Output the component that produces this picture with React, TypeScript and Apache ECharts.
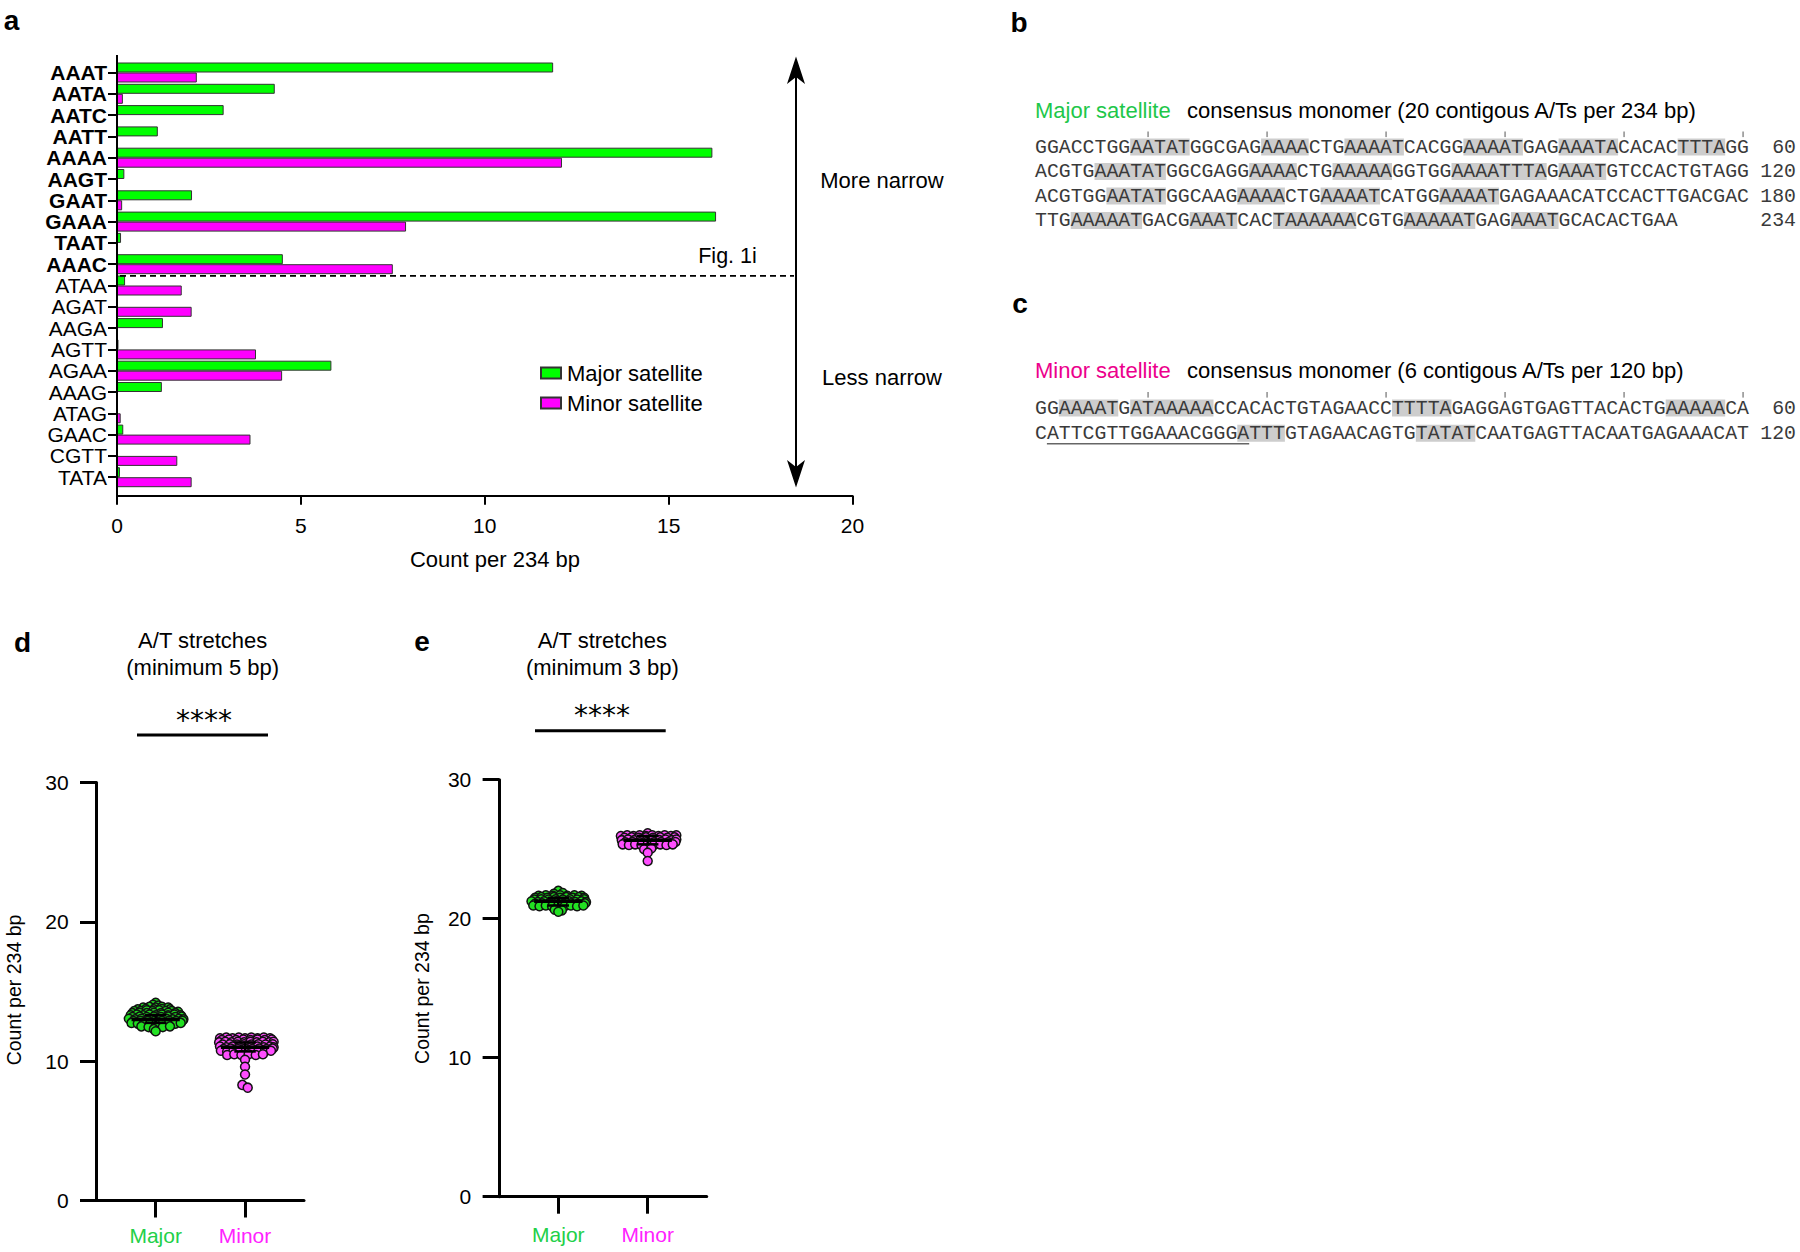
import React, { useEffect, useRef } from 'react';
import * as echarts from 'echarts';

// ---------- Panel a data ----------
const motifs = ['AAAT', 'AATA', 'AATC', 'AATT', 'AAAA', 'AAGT', 'GAAT', 'GAAA', 'TAAT', 'AAAC', 'ATAA', 'AGAT', 'AAGA', 'AGTT', 'AGAA', 'AAAG', 'ATAG', 'GAAC', 'CGTT', 'TATA'];
const boldMotifCount = 10;
const majorCounts = [11.86, 4.29, 2.9, 1.11, 16.19, 0.2, 2.04, 16.29, 0.11, 4.51, 0.22, 0, 1.25, 0.04, 5.83, 1.22, 0, 0.17, 0, 0.08];
const minorCounts = [2.17, 0.16, 0, 0, 12.1, 0, 0.14, 7.86, 0, 7.5, 1.76, 2.03, 0, 3.78, 4.49, 0, 0.1, 3.63, 1.64, 2.03];
const barTicks = { min: 0, max: 20, interval: 5 };

// ---------- Panels b / c data ----------
const majorSeq = [
  'GGACCTGGAATATGGCGAGAAAACTGAAAATCACGGAAAATGAGAAATACACACTTTAGG',
  'ACGTGAAATATGGCGAGGAAAACTGAAAAAGGTGGAAAATTTAGAAATGTCCACTGTAGG',
  'ACGTGGAATATGGCAAGAAAACTGAAAATCATGGAAAATGAGAAACATCCACTTGACGAC',
  'TTGAAAAATGACGAAATCACTAAAAAACGTGAAAAATGAGAAATGCACACTGAA',
];
const majorNums = ['60', '120', '180', '234'];
// [line, start, length]
const majorHL = [
  [0, 8, 5], [0, 19, 4], [0, 26, 5], [0, 36, 5], [0, 44, 5], [0, 54, 4],
  [1, 5, 6], [1, 18, 4], [1, 25, 5], [1, 35, 8], [1, 44, 4],
  [2, 6, 5], [2, 17, 4], [2, 24, 5], [2, 34, 5],
  [3, 3, 6], [3, 13, 4], [3, 20, 7], [3, 31, 6], [3, 40, 4],
];
const minorSeq = [
  'GGAAAATGATAAAAACCACACTGTAGAACCTTTTAGAGGAGTGAGTTACACTGAAAAACA',
  'CATTCGTTGGAAACGGGATTTGTAGAACAGTGTATATCAATGAGTTACAATGAGAAACAT',
];
const minorNums = ['60', '120'];
const minorHL = [[0, 2, 5], [0, 8, 7], [0, 30, 5], [0, 53, 5], [1, 17, 4], [1, 32, 5]];
const minorUnderline = [1, 1, 17];

// ---------- Panel d data (x = group + beeswarm offset, y = count) ----------
const dMajor = [
  [1.00, 14.2], [0.97, 14.05], [1.03, 14.0],
  [0.86, 13.85], [0.93, 13.9], [1.00, 13.85], [1.07, 13.9], [1.14, 13.85],
  [0.80, 13.72], [0.89, 13.75], [0.98, 13.72], [1.07, 13.75], [1.16, 13.72],
  [0.76, 13.6], [0.83, 13.6], [0.90, 13.65], [0.97, 13.6], [1.04, 13.65], [1.11, 13.6], [1.18, 13.6], [1.25, 13.55],
  [0.74, 13.45], [0.82, 13.48], [0.90, 13.45], [0.98, 13.48], [1.06, 13.45], [1.14, 13.48], [1.22, 13.45],
  [0.72, 13.3], [0.79, 13.35], [0.86, 13.3], [0.93, 13.35], [1.00, 13.3], [1.07, 13.35], [1.14, 13.3], [1.21, 13.35], [1.28, 13.3],
  [0.74, 13.17], [0.82, 13.2], [0.90, 13.17], [0.98, 13.2], [1.06, 13.17], [1.14, 13.2], [1.22, 13.17], [1.29, 13.2],
  [0.70, 13.05], [0.77, 13.0], [0.84, 13.05], [0.91, 13.0], [0.98, 13.05], [1.05, 13.0], [1.12, 13.05], [1.19, 13.0], [1.26, 13.05], [1.31, 13.0],
  [0.75, 12.88], [0.83, 12.9], [0.91, 12.88], [0.99, 12.9], [1.07, 12.88], [1.15, 12.9], [1.23, 12.88], [1.30, 12.9],
  [0.73, 12.75], [0.80, 12.7], [0.87, 12.75], [0.94, 12.7], [1.01, 12.75], [1.08, 12.7], [1.15, 12.75], [1.22, 12.7], [1.28, 12.75],
  [0.84, 12.5], [0.92, 12.45], [1.00, 12.5], [1.08, 12.45], [1.16, 12.5],
  [0.98, 12.3], [1.00, 12.15],
];
const dMinor = [
  [1.72, 11.65], [1.79, 11.7], [1.86, 11.65], [1.93, 11.7], [2.00, 11.65], [2.07, 11.7], [2.14, 11.65], [2.21, 11.7], [2.28, 11.65],
  [1.74, 11.52], [1.82, 11.55], [1.90, 11.52], [1.98, 11.55], [2.06, 11.52], [2.14, 11.55], [2.22, 11.52], [2.30, 11.55],
  [1.71, 11.35], [1.78, 11.4], [1.85, 11.35], [1.92, 11.4], [1.99, 11.35], [2.06, 11.4], [2.13, 11.35], [2.20, 11.4], [2.27, 11.35], [2.32, 11.4],
  [1.75, 11.2], [1.83, 11.22], [1.91, 11.2], [1.99, 11.22], [2.07, 11.2], [2.15, 11.22], [2.23, 11.2], [2.31, 11.22],
  [1.72, 11.05], [1.79, 11.0], [1.86, 11.05], [1.93, 11.0], [2.00, 11.05], [2.07, 11.0], [2.14, 11.05], [2.21, 11.0], [2.28, 11.05], [2.32, 11.0],
  [1.76, 10.88], [1.84, 10.9], [1.92, 10.88], [2.00, 10.9], [2.08, 10.88], [2.16, 10.9], [2.24, 10.88], [2.31, 10.9],
  [1.73, 10.75], [1.80, 10.7], [1.87, 10.75], [1.94, 10.7], [2.01, 10.75], [2.08, 10.7], [2.15, 10.75], [2.22, 10.7], [2.29, 10.75],
  [1.80, 10.45], [1.88, 10.5], [1.96, 10.45], [2.04, 10.5], [2.12, 10.45], [2.20, 10.5],
  [2.00, 10.1], [2.00, 9.6], [2.00, 9.05], [1.97, 8.3], [2.03, 8.1],
];
// [group, q1, median, q3]
const dStats = [[1, 12.75, 13.0, 13.3], [2, 10.7, 11.0, 11.35]];

// ---------- Panel e data ----------
const eMajor = [
  [1.00, 22.0], [0.95, 21.8], [1.05, 21.85],
  [0.78, 21.65], [0.86, 21.68], [0.94, 21.65], [1.02, 21.68], [1.10, 21.65], [1.18, 21.68], [1.26, 21.65],
  [0.74, 21.5], [0.81, 21.55], [0.88, 21.5], [0.95, 21.55], [1.02, 21.5], [1.09, 21.55], [1.16, 21.5], [1.23, 21.55], [1.29, 21.5],
  [0.73, 21.38], [0.81, 21.4], [0.89, 21.38], [0.97, 21.4], [1.05, 21.38], [1.13, 21.4], [1.21, 21.38], [1.29, 21.4],
  [0.70, 21.25], [0.77, 21.2], [0.84, 21.25], [0.91, 21.2], [0.98, 21.25], [1.05, 21.2], [1.12, 21.25], [1.19, 21.2], [1.26, 21.25], [1.31, 21.2],
  [0.74, 21.08], [0.82, 21.1], [0.90, 21.08], [0.98, 21.1], [1.06, 21.08], [1.14, 21.1], [1.22, 21.08], [1.30, 21.1],
  [0.72, 20.95], [0.79, 20.9], [0.86, 20.95], [0.93, 20.9], [1.00, 20.95], [1.07, 20.9], [1.14, 20.95], [1.21, 20.9], [1.28, 20.95],
  [0.96, 20.65], [1.04, 20.6], [1.00, 20.5],
];
const eMinor = [
  [2.00, 26.15],
  [1.70, 25.95], [1.77, 26.0], [1.84, 25.95], [1.91, 26.0], [1.98, 25.95], [2.05, 26.0], [2.12, 25.95], [2.19, 26.0], [2.26, 25.95], [2.32, 26.0],
  [1.74, 25.82], [1.82, 25.85], [1.90, 25.82], [1.98, 25.85], [2.06, 25.82], [2.14, 25.85], [2.22, 25.82], [2.30, 25.85],
  [1.71, 25.65], [1.78, 25.7], [1.85, 25.65], [1.92, 25.7], [1.99, 25.65], [2.06, 25.7], [2.13, 25.65], [2.20, 25.7], [2.27, 25.65], [2.32, 25.7],
  [1.75, 25.5], [1.83, 25.52], [1.91, 25.5], [1.99, 25.52], [2.07, 25.5], [2.15, 25.52], [2.23, 25.5], [2.31, 25.52],
  [1.72, 25.35], [1.79, 25.3], [1.86, 25.35], [1.93, 25.3], [2.00, 25.35], [2.07, 25.3], [2.14, 25.35], [2.21, 25.3], [2.28, 25.35],
  [1.96, 25.0], [2.04, 25.05], [2.00, 24.75], [2.00, 24.15],
];
const eStats = [[1, 20.95, 21.25, 21.5], [2, 25.35, 25.65, 25.95]];
const groupNames = ['Major', 'Minor'];
const countTicks = { min: 0, max: 30, interval: 10 };

// ---------- styling / layout ----------
const FONT = '"Liberation Sans", Arial, Helvetica, sans-serif';
const MONO = '"Liberation Mono", "Courier New", monospace';
const GREEN_BAR = '#00ff00';
const MAGENTA_BAR = '#ff00ff';
const GREEN_DOT = '#22e022';
const MAGENTA_DOT = '#ff4dff';
const GREEN_TXT = '#1ec74a';
const PINK_TXT = '#ec008c';
const MAJOR_LBL = '#22d048';
const MINOR_LBL = '#ff22ff';

const BAR = { left: 117, top: 61.85, width: 735.5, height: 426 };
const GD = { left: 96.7, top: 782.6, width: 207.3, height: 417.9 };
const GE = { left: 499.3, top: 779.7, width: 207.4, height: 417 };

const SEQ_X = 1035;
const CW = 11.9;
const SEQ_FS = CW / 0.6;
const B_Y = [147, 171.5, 196, 220.5];
const C_Y = [408, 433.3];

function buildGraphic() {
  const g: any[] = [];
  const txt = (text: string, x: number, y: number, o: any = {}, extra: any = {}) =>
    g.push({
      type: 'text', x, y, z: 20, ...extra,
      style: { text, fontSize: 22, fontFamily: FONT, fill: '#000', align: 'center', verticalAlign: 'middle', ...o },
    });
  const line = (x1: number, y1: number, x2: number, y2: number, o: any = {}) =>
    g.push({ type: 'line', z: 15, shape: { x1, y1, x2, y2 }, style: { stroke: '#000', lineWidth: 2, ...o } });

  // panel letters
  const lab = { fontSize: 28, fontWeight: 'bold' };
  txt('a', 11.5, 20, lab);
  txt('b', 1019, 22, lab);
  txt('c', 1020, 303.6, lab);
  txt('d', 22.5, 642, lab);
  txt('e', 422, 641, lab);

  // panel a extras
  line(BAR.left, 55, BAR.left, 496.8, { lineWidth: 2 });
  const dashY = BAR.top + (BAR.height * boldMotifCount) / motifs.length + 1;
  line(BAR.left + 3, dashY, 794, dashY, { lineWidth: 1.6, lineDash: [6, 4] });
  txt('Fig. 1i', 727.5, 256, { fontSize: 21.5 });
  line(796, 76, 796, 468, { lineWidth: 2 });
  g.push({ type: 'polygon', z: 16, shape: { points: [[796, 56.5], [805, 84], [796, 77], [787, 84]] }, style: { fill: '#000' } });
  g.push({ type: 'polygon', z: 16, shape: { points: [[796, 487.5], [805, 460], [796, 467], [787, 460]] }, style: { fill: '#000' } });
  txt('More narrow', 882, 180, { fontSize: 22 });
  txt('Less narrow', 882, 377, { fontSize: 22 });
  txt('Count per 234 bp', 495, 559, { fontSize: 22 });

  // panels d / e titles
  txt('A/T stretches', 202.7, 640.5, { fontSize: 22 });
  txt('(minimum 5 bp)', 202.7, 667, { fontSize: 22 });
  txt('****', 204, 720, { fontSize: 28, fontFamily: '"DejaVu Sans", sans-serif' });
  line(137, 735, 268, 735, { lineWidth: 3 });
  txt('A/T stretches', 602.3, 640.5, { fontSize: 22 });
  txt('(minimum 3 bp)', 602.3, 667, { fontSize: 22 });
  txt('****', 602, 715, { fontSize: 28, fontFamily: '"DejaVu Sans", sans-serif' });
  line(535, 730.8, 665.7, 730.8, { lineWidth: 3 });
  txt('Count per 234 bp', 14, 990, { fontSize: 19.5 }, { rotation: Math.PI / 2 });
  txt('Count per 234 bp', 422, 988.6, { fontSize: 19.5 }, { rotation: Math.PI / 2 });

  // panels b / c
  const seqBlock = (title: string, titleColor: string, subtitle: string, titleY: number, tickY: number, seqs: string[], ys: number[], nums: string[], hl: number[][]) => {
    txt(title, SEQ_X, titleY, { fontSize: 22, fill: titleColor, align: 'left' });
    txt(subtitle, 1187, titleY, { fontSize: 22, align: 'left' });
    for (let k = 1; k <= 6; k++) {
      const x = SEQ_X + (10 * k - 0.5) * CW;
      line(x, tickY, x, tickY + 5.6, { lineWidth: 1, stroke: '#555' });
    }
    hl.forEach(([li, s, n]) => {
      g.push({ type: 'rect', z: 5, shape: { x: SEQ_X + s * CW, y: ys[li] - 8.5, width: n * CW, height: 17 }, style: { fill: '#cdcdcd' } });
    });
    seqs.forEach((s, i) => {
      txt(s, SEQ_X, ys[i], { fontSize: SEQ_FS, fontFamily: MONO, fill: '#3a3a3a', align: 'left' });
      txt(nums[i], 1796, ys[i], { fontSize: SEQ_FS, fontFamily: MONO, fill: '#3a3a3a', align: 'right' });
    });
  };
  seqBlock('Major satellite', GREEN_TXT, 'consensus monomer (20 contigous A/Ts per 234 bp)', 110.5, 131.5, majorSeq, B_Y, majorNums, majorHL);
  seqBlock('Minor satellite', PINK_TXT, 'consensus monomer (6 contigous A/Ts per 120 bp)', 370.5, 392, minorSeq, C_Y, minorNums, minorHL);
  const [uli, us, un] = minorUnderline;
  line(SEQ_X + us * CW, C_Y[uli] + 10.5, SEQ_X + (us + un) * CW, C_Y[uli] + 10.5, { lineWidth: 1.5, stroke: '#666' });
  return g;
}

const renderStats = (params: any, api: any) => {
  const gx = api.value(0), q1 = api.value(1), med = api.value(2), q3 = api.value(3);
  const a = api.coord([gx - 0.27, med]), b = api.coord([gx + 0.27, med]);
  const c1 = api.coord([gx, q1]), c3 = api.coord([gx, q3]);
  const l1 = api.coord([gx - 0.12, q1]), r1 = api.coord([gx + 0.12, q1]);
  const l3 = api.coord([gx - 0.12, q3]), r3 = api.coord([gx + 0.12, q3]);
  const st = { stroke: '#000', lineWidth: 2.5 };
  return {
    type: 'group',
    children: [
      { type: 'line', shape: { x1: a[0], y1: a[1], x2: b[0], y2: b[1] }, style: { stroke: '#000', lineWidth: 3.5 } },
      { type: 'line', shape: { x1: c1[0], y1: c1[1], x2: c3[0], y2: c3[1] }, style: st },
      { type: 'line', shape: { x1: l1[0], y1: l1[1], x2: r1[0], y2: r1[1] }, style: st },
      { type: 'line', shape: { x1: l3[0], y1: l3[1], x2: r3[0], y2: r3[1] }, style: st },
    ],
  };
};

const axisBlack = (w: number) => ({ show: true, onZero: false, lineStyle: { color: '#000', width: w } });

const dotXAxis = (gridIndex: number, margin: number) => ({
  gridIndex, type: 'value', min: 0.34, max: 2.66,
  axisLine: axisBlack(3),
  axisTick: { show: true, inside: false, length: 17, customValues: [1, 2], lineStyle: { color: '#000', width: 3 } },
  axisLabel: {
    show: true, customValues: [1, 2], margin, fontSize: 21, fontFamily: FONT,
    formatter: (v: number) => (Math.round(v) === 1 ? `{g|${groupNames[0]}}` : `{m|${groupNames[1]}}`),
    rich: { g: { color: MAJOR_LBL, fontSize: 21, fontFamily: FONT }, m: { color: MINOR_LBL, fontSize: 21, fontFamily: FONT } },
  },
  splitLine: { show: false },
});
const dotYAxis = (gridIndex: number) => ({
  gridIndex, type: 'value', ...countTicks,
  axisLine: axisBlack(3),
  axisTick: { show: true, inside: false, length: 16.7, lineStyle: { color: '#000', width: 3 } },
  axisLabel: { show: true, margin: 28, fontSize: 21, fontFamily: FONT, color: '#000' },
  splitLine: { show: false },
});

const dotStyle = (color: string) => ({ color, borderColor: '#111', borderWidth: 1.5, opacity: 1 });

const option: any = {
  animation: false,
  backgroundColor: '#fff',
  textStyle: { fontFamily: FONT },
  grid: [
    { ...BAR, containLabel: false, outerBoundsMode: 'none' },
    { ...GD, containLabel: false, outerBoundsMode: 'none' },
    { ...GE, containLabel: false, outerBoundsMode: 'none' },
  ],
  legend: {
    data: ['Major satellite', 'Minor satellite'],
    orient: 'vertical', left: 535, top: 357, itemWidth: 20, itemHeight: 11, itemGap: 8,
    icon: 'rect', selectedMode: false,
    textStyle: { fontSize: 22, fontFamily: FONT, color: '#000', padding: [0, 0, 0, 1] },
  },
  xAxis: [
    {
      gridIndex: 0, type: 'value', ...barTicks, offset: 8,
      axisLine: axisBlack(2),
      axisTick: { show: true, inside: false, length: 9, lineStyle: { color: '#000', width: 2 } },
      axisLabel: { show: true, margin: 19, fontSize: 21, fontFamily: FONT, color: '#000' },
      splitLine: { show: false },
    },
    dotXAxis(1, 24),
    dotXAxis(2, 27),
  ],
  yAxis: [
    {
      gridIndex: 0, type: 'category', data: motifs, inverse: true,
      axisLine: { show: false },
      axisTick: { show: true, alignWithLabel: true, inside: false, length: 9, lineStyle: { color: '#000', width: 2 } },
      axisLabel: {
        show: true, margin: 10, interval: 0,
        formatter: (v: string, i: number) => (i < boldMotifCount ? `{b|${v}}` : `{n|${v}}`),
        rich: {
          b: { fontSize: 21, fontWeight: 'bold', color: '#000', fontFamily: FONT },
          n: { fontSize: 21, color: '#000', fontFamily: FONT },
        },
      },
      splitLine: { show: false },
    },
    dotYAxis(1),
    dotYAxis(2),
  ],
  series: [
    {
      name: 'Major satellite', type: 'bar', xAxisIndex: 0, yAxisIndex: 0, data: majorCounts,
      barWidth: 10, barGap: '0%', itemStyle: { color: GREEN_BAR, borderColor: '#333', borderWidth: 1 },
    },
    {
      name: 'Minor satellite', type: 'bar', xAxisIndex: 0, yAxisIndex: 0, data: minorCounts,
      barWidth: 10, barGap: '0%', itemStyle: { color: MAGENTA_BAR, borderColor: '#333', borderWidth: 1 },
    },
    { name: 'd Major', type: 'scatter', xAxisIndex: 1, yAxisIndex: 1, data: dMajor, symbolSize: 9, itemStyle: dotStyle(GREEN_DOT), z: 2 },
    { name: 'd Minor', type: 'scatter', xAxisIndex: 1, yAxisIndex: 1, data: dMinor, symbolSize: 9, itemStyle: dotStyle(MAGENTA_DOT), z: 2 },
    { name: 'd stats', type: 'custom', xAxisIndex: 1, yAxisIndex: 1, data: dStats, renderItem: renderStats, encode: { x: 0, y: [1, 2, 3] }, z: 5 },
    { name: 'e Major', type: 'scatter', xAxisIndex: 2, yAxisIndex: 2, data: eMajor, symbolSize: 9, itemStyle: dotStyle(GREEN_DOT), z: 2 },
    { name: 'e Minor', type: 'scatter', xAxisIndex: 2, yAxisIndex: 2, data: eMinor, symbolSize: 9, itemStyle: dotStyle(MAGENTA_DOT), z: 2 },
    { name: 'e stats', type: 'custom', xAxisIndex: 2, yAxisIndex: 2, data: eStats, renderItem: renderStats, encode: { x: 0, y: [1, 2, 3] }, z: 5 },
  ],
  graphic: buildGraphic(),
};

export default function App() {
  const ref = useRef<HTMLDivElement>(null);
  useEffect(() => {
    document.body.style.margin = '0';
    const chart = echarts.init(ref.current as HTMLDivElement, null, { renderer: 'svg', width: 1800, height: 1252 });
    chart.setOption(option);
    return () => chart.dispose();
  }, []);
  return <div ref={ref} style={{ position: 'absolute', left: 0, top: 0, width: 1800, height: 1252 }} />;
}
